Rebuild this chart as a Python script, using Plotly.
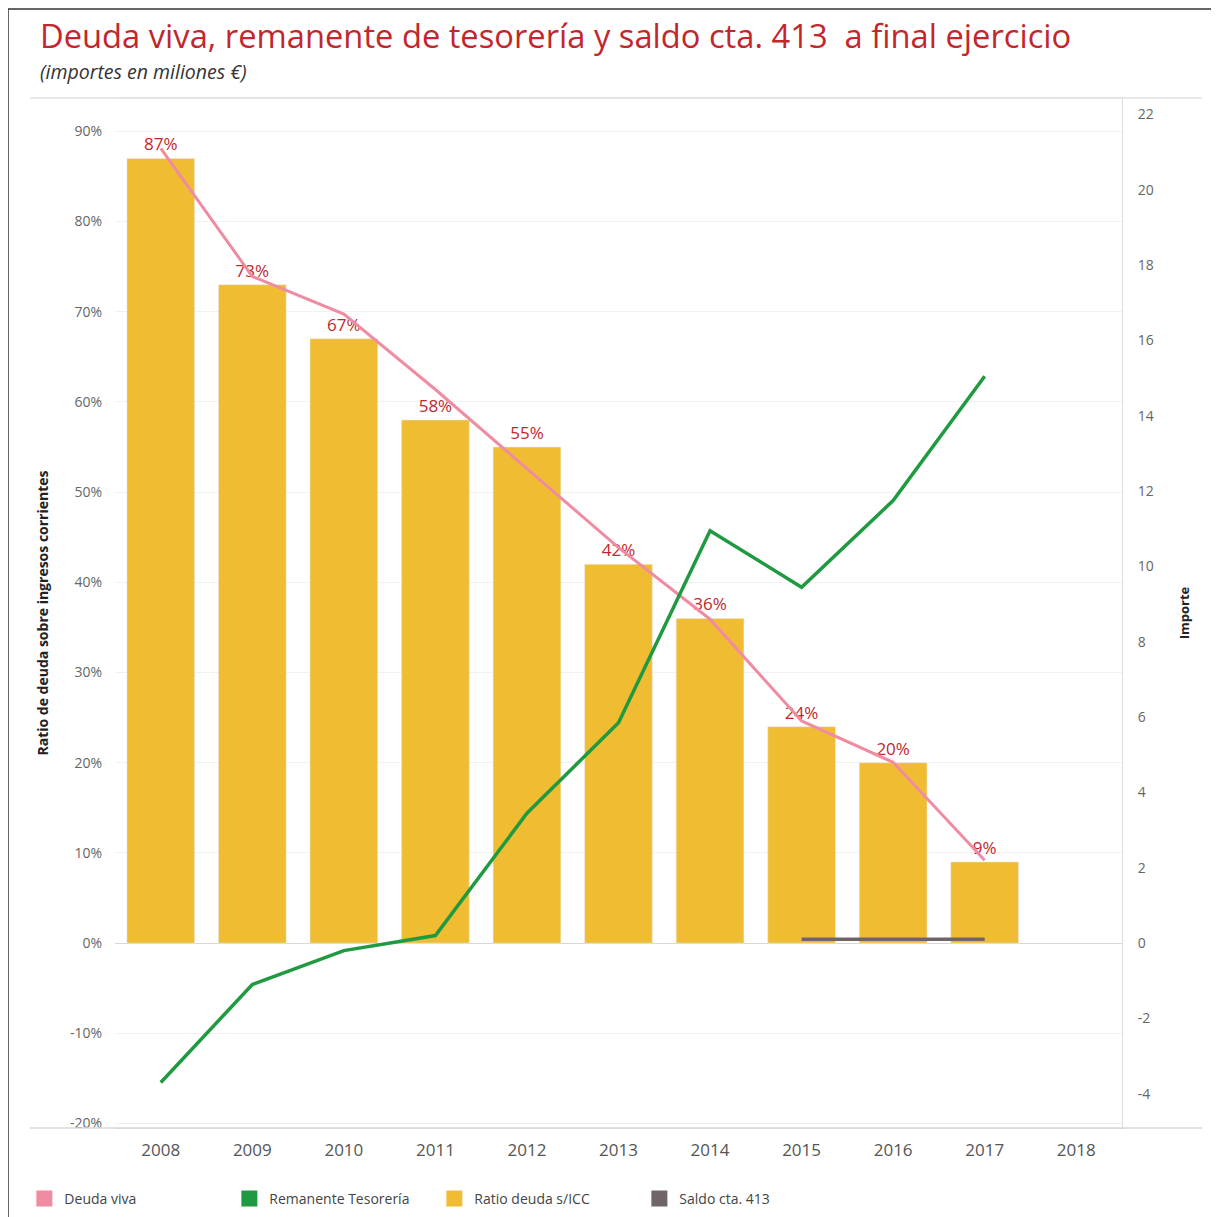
import plotly.graph_objects as go

years = ["2008", "2009", "2010", "2011", "2012", "2013", "2014", "2015", "2016", "2017"]
all_years = years + ["2018"]
ratio_pct = [87, 73, 67, 58, 55, 42, 36, 24, 20, 9]
deuda_viva = [21.1, 17.7, 16.7, 14.7, 12.6, 10.5, 8.6, 5.9, 4.8, 2.2]
remanente = [-3.7, -1.1, -0.2, 0.2, 3.45, 5.85, 10.95, 9.45, 11.75, 15.05]
saldo_years = ["2015", "2016", "2017"]
saldo_413 = [0.1, 0.1, 0.1]
left_ticks = [-20, -10, 0, 10, 20, 30, 40, 50, 60, 70, 80, 90]
right_ticks = [-4, -2, 0, 2, 4, 6, 8, 10, 12, 14, 16, 18, 20, 22]

PINK = "#f08ca2"
GREEN = "#1f9a40"
YELLOW = "#f0bd32"
GREY = "#6f6568"
RED = "#c1272d"

W, H = 1203, 1209
ML, MR, MT, MB = 107, 89, 90, 89
PW, PH = W - ML - MR, H - MT - MB

fig = go.Figure()

fig.add_trace(go.Bar(
    x=years, y=ratio_pct, marker_color=YELLOW, width=0.74,
    text=[f"{v}%" for v in ratio_pct], textposition="outside",
    textfont=dict(color=RED, size=17, family="Open Sans"),
    cliponaxis=False, showlegend=False, yaxis="y",
))
fig.add_trace(go.Scatter(
    x=years, y=deuda_viva, mode="lines", line=dict(color=PINK, width=3),
    showlegend=False, yaxis="y2",
))
fig.add_trace(go.Scatter(
    x=years, y=remanente, mode="lines", line=dict(color=GREEN, width=3.5),
    showlegend=False, yaxis="y2",
))
fig.add_trace(go.Scatter(
    x=saldo_years, y=saldo_413, mode="lines", line=dict(color=GREY, width=3.5),
    showlegend=False, yaxis="y2",
))

# legend entries (square swatches)
for name, col in [("Deuda viva", PINK), ("Remanente Tesorería", GREEN),
                  ("Ratio deuda s/ICC", YELLOW), ("Saldo cta. 413", GREY)]:
    fig.add_trace(go.Scatter(
        x=[None], y=[None], mode="markers", name=name,
        marker=dict(symbol="square", size=21, color=col), yaxis="y2",
    ))

fig.update_layout(
    width=W, height=H,
    margin=dict(l=ML, r=MR, t=MT, b=MB, autoexpand=False),
    paper_bgcolor="white", plot_bgcolor="white",
    font=dict(family="Open Sans", color="#555"),
    xaxis=dict(
        type="category", categoryorder="array", categoryarray=all_years,
        range=[-0.5, 10.5], showgrid=False, ticks="",
        tickfont=dict(size=17, color="#555"), showline=True,
        linecolor="#ddd", linewidth=1, mirror=True, ticklabelstandoff=7,
    ),
    yaxis=dict(
        range=[-20.5, 93.7], tickvals=left_ticks,
        ticktext=[f"{v}%" for v in left_ticks],
        showgrid=True, gridcolor="#f1f1f1", zeroline=True,
        zerolinecolor="#d8d8d8", zerolinewidth=1,
        tickfont=dict(size=14, color="#666"), ticklabelstandoff=12,
        title=dict(text="<b>Ratio de deuda sobre ingresos corrientes</b>",
                   font=dict(size=14, color="#222"), standoff=18),
    ),
    yaxis2=dict(
        overlaying="y", side="right", range=[-4.91, 22.44],
        tickvals=right_ticks, ticktext=[str(v) for v in right_ticks],
        showgrid=False, zeroline=False,
        tickfont=dict(size=14, color="#666"), ticklabelstandoff=12,
        title=dict(text="<b>Importe</b>", font=dict(size=13, color="#222"),
                   standoff=27),
        showline=True, linecolor="#ddd",
    ),
    legend=dict(
        orientation="h", x=-0.09, xanchor="left", y=-55 / PH, yanchor="top",
        xref="paper", yref="paper",
        font=dict(size=14, color="#444"), entrywidth=160, entrywidthmode="pixels",
        itemsizing="trace", itemwidth=30,
    ),
    bargap=0.26,
)

# title and subtitle
fig.add_annotation(
    text="Deuda viva, remanente de tesorería y saldo cta. 413  a final ejercicio",
    xref="paper", yref="paper", x=(30 - ML) / PW, y=1 + (MT - 3) / PH,
    xanchor="left", yanchor="top", showarrow=False,
    font=dict(size=32.7, color=RED, family="Open Sans"),
)
fig.add_annotation(
    text="<i>(importes en miliones €)</i>",
    xref="paper", yref="paper", x=(30 - ML) / PW, y=1 + (MT - 48) / PH,
    xanchor="left", yanchor="top", showarrow=False,
    font=dict(size=19.5, color="#333", family="Open Sans"),
)

# outer frame (left and top edges)
fig.add_shape(type="line", xref="paper", yref="paper",
              x0=-ML / PW, x1=-ML / PW, y0=-MB / PH, y1=1 + (MT - 1) / PH,
              line=dict(color="#333", width=1.5))
fig.add_shape(type="line", xref="paper", yref="paper",
              x0=-ML / PW, x1=1 + MR / PW, y0=1 + (MT - 1) / PH, y1=1 + (MT - 1) / PH,
              line=dict(color="#333", width=1.5))
# light band lines across top and bottom of plot
fig.add_shape(type="line", xref="paper", yref="paper",
              x0=(22 - ML) / PW, x1=1 + 80 / PW, y0=1, y1=1,
              line=dict(color="#e2e2e2", width=1.5))
fig.add_shape(type="line", xref="paper", yref="paper",
              x0=(22 - ML) / PW, x1=1 + 80 / PW, y0=0, y1=0,
              line=dict(color="#d8d8d8", width=1.5))

fig.write_html("out.html")
